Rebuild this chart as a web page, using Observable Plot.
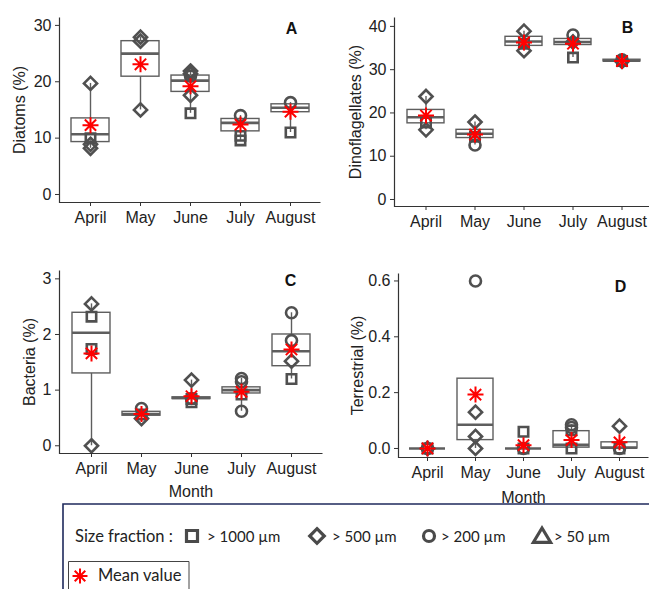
<!DOCTYPE html>
<html>
<head>
<meta charset="utf-8">
<script src="https://cdn.jsdelivr.net/npm/d3@7"></script>
<script src="https://cdn.jsdelivr.net/npm/@observablehq/plot@0.6"></script>
<style>
  html, body { margin: 0; background: #fff; }
  #root { position: relative; width: 649px; height: 589px; overflow: hidden; background: #fff; }
  #root svg { position: absolute; max-width: none; background: transparent; }
</style>
</head>
<body>
<div id="root"></div>
<script>
// ---------------- DATA ----------------
const months = ["April", "May", "June", "July", "August"];
const fractionCodes = ["1000", "500", "200", "50"];
const fractionLabels = ["> 1000 µm", "> 500 µm", "> 200 µm", "> 50 µm"];

// box stats per month: [lower whisker, Q1, median, Q3, upper whisker]
const diatomsBox = [[8.2, 9.3, 10.7, 13.5, 19.7], [15.0, 20.9, 25.0, 27.2, 27.9], [14.4, 18.2, 20.2, 21.1, 21.9], [9.6, 11.2, 12.7, 13.4, 14.0], [11.0, 14.6, 15.4, 16.0, 16.3]];
const diatomsMean = [12.3, 23.1, 19.2, 12.4, 14.7];
const diatomsPoints = [
  ["April", "500", 19.7], ["April", "500", 8.2], ["April", "500", 8.9], ["April", "1000", 10.0],
  ["May", "500", 27.9], ["May", "500", 27.2], ["May", "500", 15.0],
  ["June", "500", 21.9], ["June", "500", 21.4], ["June", "200", 21.0], ["June", "500", 17.6], ["June", "1000", 14.4],
  ["July", "200", 14.0], ["July", "1000", 10.4], ["July", "1000", 9.6],
  ["August", "200", 16.3], ["August", "1000", 11.0]
];

const dinoBox = [[16.1, 17.6, 19.0, 20.7, 23.8], [12.6, 14.2, 15.2, 16.1, 17.9], [34.4, 35.5, 36.5, 37.6, 38.9], [32.8, 35.7, 36.4, 37.1, 38.0], [31.8, 31.9, 32.1, 32.3, 32.3]];
const dinoMean = [19.4, 15.0, 36.3, 36.0, 32.0];
const dinoPoints = [
  ["April", "500", 23.8], ["April", "500", 16.1], ["April", "1000", 17.8],
  ["May", "500", 17.9], ["May", "200", 12.6], ["May", "1000", 14.5],
  ["June", "500", 38.9], ["June", "500", 34.4], ["June", "1000", 36.0],
  ["July", "200", 38.0], ["July", "1000", 32.8], ["July", "500", 36.4],
  ["August", "200", 32.3], ["August", "500", 31.9], ["August", "1000", 32.0]
];

const bacteriaBox = [[0.0, 1.30, 2.03, 2.39, 2.55], [0.49, 0.54, 0.57, 0.61, 0.67], [0.78, 0.84, 0.86, 0.87, 1.18], [0.62, 0.94, 1.00, 1.05, 1.21], [1.20, 1.43, 1.70, 2.00, 2.39]];
const bacteriaMean = [1.66, 0.57, 0.89, 0.97, 1.73];
const bacteriaPoints = [
  ["April", "500", 2.55], ["April", "1000", 2.32], ["April", "1000", 1.74], ["April", "500", 0.0],
  ["May", "200", 0.67], ["May", "500", 0.49], ["May", "1000", 0.56],
  ["June", "500", 1.18], ["June", "1000", 0.78], ["June", "1000", 0.84], ["June", "200", 0.85],
  ["July", "200", 1.21], ["July", "200", 1.15], ["July", "200", 0.62], ["July", "1000", 0.92],
  ["August", "200", 2.39], ["August", "200", 1.89], ["August", "500", 1.52], ["August", "1000", 1.20]
];

const terrBox = [[0, 0, 0, 0, 0], [0, 0.03, 0.085, 0.25, 0.25], [0, 0, 0, 0, 0], [0, 0.003, 0.013, 0.062, 0.085], [0, 0, 0.003, 0.022, 0.022]];
const terrMean = [0.0, 0.193, 0.012, 0.03, 0.022];
const terrPoints = [
  ["April", "1000", 0], ["April", "500", 0], ["April", "200", 0],
  ["May", "200", 0.6], ["May", "500", 0.13], ["May", "500", 0.043], ["May", "500", 0.0],
  ["June", "1000", 0.06], ["June", "1000", 0], ["June", "200", 0],
  ["July", "200", 0.085], ["July", "200", 0.075], ["July", "1000", 0.065], ["July", "1000", 0],
  ["August", "500", 0.08], ["August", "1000", 0], ["August", "200", 0]
];

const diatomsTicks = [0, 10, 20, 30];
const dinoTicks = [0, 10, 20, 30, 40];
const bacteriaTicks = [0, 1, 2, 3];
const terrTicks = [0, 0.2, 0.4, 0.6];

// ---------------- STYLE ----------------
const gray = "#505050";
const boxGray = "#5e5e5e";
const axisFont = "Liberation Sans, Arial, sans-serif";
const pointSymbols = ["square", "diamond2", "circle", "triangle2"];
const pointRadii = [5.3, 5.9, 5.5, 5.5];
const asterisk8 = {
  draw(ctx, size) {
    const r = Math.sqrt(size / Math.PI), d = r * Math.SQRT1_2;
    ctx.moveTo(-r, 0); ctx.lineTo(r, 0);
    ctx.moveTo(0, -r); ctx.lineTo(0, r);
    ctx.moveTo(-d, -d); ctx.lineTo(d, d);
    ctx.moveTo(-d, d); ctx.lineTo(d, -d);
  }
};

const root = document.getElementById("root");

function panel(cfg) {
  const {box, mean, points, ticks, fmt, yLabel, letter, left, top, width, height, ml, mt, mb, yDomain, yLabelOffset, xLabel, xLabelOffset, ldx, ldy} = cfg;
  const mr = 0;
  const boxRows = months.map((m, i) => ({month: m, lo: box[i][0], q1: box[i][1], med: box[i][2], q3: box[i][3], hi: box[i][4]}));
  const meanRows = months.map((m, i) => ({month: m, mean: mean[i]}));
  const pts = points.map(([month, fraction, value]) => ({month, fraction, value}));
  const w = width - ml - mr, h = height - mt - mb;
  const shapeMarks = fractionCodes.map((f, k) => Plot.dot(pts.filter(d => d.fraction === f), {
    x: "month", y: "value", symbol: pointSymbols[k], r: pointRadii[k], stroke: gray, strokeWidth: 2.6, fill: "none"
  }));
  const svg = Plot.plot({
    width, height, marginLeft: ml, marginRight: mr, marginTop: mt, marginBottom: mb,
    style: {fontFamily: axisFont, fontSize: "16px", color: "#222", background: "transparent", overflow: "visible"},
    x: {type: "band", domain: months, paddingInner: 0.25, paddingOuter: 0.225, align: 0.5},
    y: {domain: yDomain},
    marks: [
      Plot.ruleX(boxRows, {x: "month", y1: "lo", y2: "hi", stroke: boxGray, strokeWidth: 1.4}),
      Plot.barY(boxRows, {x: "month", y1: "q1", y2: "q3", fill: "white", stroke: boxGray, strokeWidth: 1.4}),
      Plot.tickY(boxRows, {x: "month", y: "med", stroke: boxGray, strokeWidth: 2.6}),
      ...shapeMarks,
      Plot.dot(meanRows, {x: "month", y: "mean", symbol: asterisk8, r: 8, stroke: "#ff0000", strokeWidth: 2}),
      Plot.frame({stroke: "#333", strokeWidth: 1.2, fill: "none", strokeDasharray: `0 ${w + h} ${w + h}`}),
      Plot.axisX({tickSize: 4, tickPadding: 5, label: xLabel, labelAnchor: "center", labelOffset: xLabelOffset, labelArrow: "none",
        stroke: "#333", fontFamily: axisFont, fontSize: 16}),
      Plot.axisY(ticks, {tickSize: 4, tickPadding: 4, tickFormat: fmt, label: yLabel, labelAnchor: "center", labelOffset: yLabelOffset,
        labelArrow: "none", stroke: "#333", fontFamily: axisFont, fontSize: 16}),
      Plot.text([letter], {frameAnchor: "top-right", text: d => d, dx: ldx, dy: ldy, textAnchor: "middle", lineAnchor: "middle",
        fontWeight: "bold", fontSize: 16, fontFamily: axisFont, fill: "#111"})
    ]
  });
  svg.style.left = left + "px";
  svg.style.top = top + "px";
  root.appendChild(svg);
}

panel({box: diatomsBox, mean: diatomsMean, points: diatomsPoints, ticks: diatomsTicks, fmt: d3.format("d"),
  yLabel: "Diatoms (%)", letter: "A", left: 0, top: 0, width: 320, height: 235, ml: 59, mt: 17, mb: 33,
  yDomain: [-1.42, 31.4], yLabelOffset: 46, xLabel: null, xLabelOffset: 30, ldx: -29, ldy: 11});

panel({box: dinoBox, mean: dinoMean, points: dinoPoints, ticks: dinoTicks, fmt: d3.format("d"),
  yLabel: "Dinoflagellates (%)", letter: "B", left: 320, top: 0, width: 332, height: 240, ml: 74, mt: 17, mb: 34,
  yDomain: [-1.62, 42.06], yLabelOffset: 45, xLabel: null, xLabelOffset: 30, ldx: -25, ldy: 10});

panel({box: bacteriaBox, mean: bacteriaMean, points: bacteriaPoints, ticks: bacteriaTicks, fmt: d3.format("d"),
  yLabel: "Bacteria (%)", letter: "C", left: 0, top: 260, width: 322, height: 240, ml: 59, mt: 10, mb: 47,
  yDomain: [-0.139, 3.15], yLabelOffset: 36, xLabel: "Month", xLabelOffset: 43, ldx: -32, ldy: 10});

panel({box: terrBox, mean: terrMean, points: terrPoints, ticks: terrTicks, fmt: d3.format(".1f"),
  yLabel: "Terrestrial (%)", letter: "D", left: 320, top: 260, width: 328, height: 245, ml: 78, mt: 13, mb: 48,
  yDomain: [-0.0323, 0.6267], yLabelOffset: 47, xLabel: "Month", xLabelOffset: 45, ldx: -28, ldy: 13});

// ---------------- LEGEND ----------------
const lg = d3.select(root).append("svg")
  .attr("width", 649).attr("height", 94)
  .style("left", "0px").style("top", "495px")
  .style("font-family", "Lato, 'Noto Sans', sans-serif").style("fill", "#222");

lg.append("path").attr("d", "M63,94V9H660").attr("fill", "none").attr("stroke", "#1f2a5c").attr("stroke-width", 1.6);
lg.append("text").attr("x", 75).attr("y", 47).attr("font-size", 16.5).attr("fill", "#222").text("Size fraction :");

const legSym = [
  d3.symbol(d3.symbolSquare, 121)(),
  d3.symbol(d3.symbolDiamond2, 135)(),
  d3.symbol(d3.symbolCircle, 95)(),
  "M0,-8L8.6,6.3L-8.6,6.3Z"
];
const legSymX = [192, 317, 429, 542];
const legTextX = [207, 332, 441, 554];
fractionLabels.forEach((lab, i) => {
  lg.append("path").attr("d", legSym[i]).attr("transform", `translate(${legSymX[i]},41)`)
    .attr("fill", "none").attr("stroke", "#4a4a4a").attr("stroke-width", 3.2);
  lg.append("text").attr("x", legTextX[i]).attr("y", 47).attr("font-size", 15).attr("fill", "#222").text(lab);
});

lg.append("path").attr("d", "M68.5,100V66.5H189V100").attr("fill", "none").attr("stroke", "#444").attr("stroke-width", 1);
const ap = d3.path(); asterisk8.draw(ap, Math.PI * 56);
lg.append("path").attr("d", ap.toString()).attr("transform", "translate(80,81)")
  .attr("fill", "none").attr("stroke", "#ff0000").attr("stroke-width", 2);
lg.append("text").attr("x", 98).attr("y", 86).attr("font-size", 16.5).attr("fill", "#222").text("Mean value");
</script>
</body>
</html>
